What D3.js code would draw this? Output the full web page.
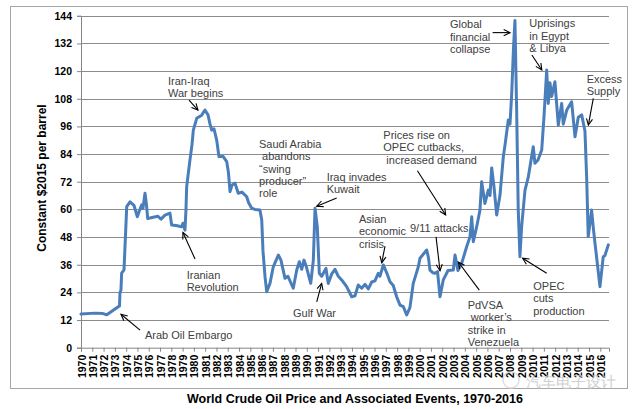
<!DOCTYPE html>
<html><head><meta charset="utf-8">
<script src="https://cdn.jsdelivr.net/npm/d3@7"></script>
<style>
html,body{margin:0;padding:0;background:#fff;}
svg{display:block;}
text{font-family:"Liberation Sans",Arial,sans-serif;}
</style></head>
<body>
<svg id="c" width="640" height="409"></svg>
<script>
// ---- data (decimal year, constant $2015 per barrel) ----
const dates = [1970.0,1971.24,1971.95,1972.28,1972.57,1972.92,1973.30,1973.41,1973.45,1973.54,1973.60,1973.81,
1974.05,1974.34,1974.69,1974.99,1975.14,1975.38,1975.49,1975.67,1975.80,1975.91,1976.29,1976.82,1977.09,1977.44,
1977.88,1978.03,1978.41,1978.92,1979.03,1979.21,1979.30,1979.36,1979.65,1979.83,1979.95,1980.25,1980.69,1980.98,
1981.25,1981.43,1981.58,1981.78,1982.02,1982.22,1982.58,1982.91,1983.06,1983.20,1983.37,1983.64,1983.93,1984.26,
1984.68,1984.84,1985.12,1985.41,1985.85,1986.01,1986.12,1986.30,1986.45,1986.74,1987.03,1987.48,1987.71,1988.07,
1988.33,1988.80,1989.11,1989.34,1989.55,1989.75,1989.97,1990.35,1990.58,1990.73,1990.93,1991.11,1991.32,1991.70,
1991.90,1992.21,1992.50,1992.79,1993.09,1993.53,1993.98,1994.27,1994.56,1994.86,1995.16,1995.45,1995.75,1996.04,
1996.33,1996.48,1996.78,1997.08,1997.37,1997.66,1997.96,1998.26,1998.55,1998.85,1999.14,1999.43,1999.88,2000.03,
2000.62,2000.78,2000.91,2001.18,2001.36,2001.58,2001.80,2002.09,2002.51,2002.98,2003.13,2003.39,2003.72,2004.16,
2004.46,2004.61,2004.75,2005.05,2005.34,2005.49,2005.78,2006.08,2006.23,2006.38,2006.58,2006.82,2007.11,2007.41,
2007.56,2007.85,2008.00,2008.15,2008.31,2008.44,2008.59,2008.73,2008.88,2009.03,2009.33,2009.62,2009.77,2010.06,
2010.21,2010.48,2010.81,2011.01,2011.25,2011.39,2011.54,2011.69,2011.83,2011.98,2012.28,2012.58,2012.72,2013.02,
2013.46,2013.76,2014.05,2014.35,2014.64,2014.79,2014.93,2015.23,2015.38,2015.53,2015.97,2016.26,2016.41,2016.71];
const prices = [14.6,15.0,14.8,14.3,15.3,16.5,17.8,18.0,23.7,25.0,32.4,33.8,
61.2,63.3,61.8,56.8,59.0,62.0,60.5,67.0,62.0,56.0,56.5,57.0,55.8,57.5,
58.4,53.2,53.0,52.5,54.0,51.0,60.0,69.9,81.4,88.0,94.4,99.5,100.9,103.1,
101.0,97.0,94.4,95.0,90.1,82.9,83.0,80.7,76.0,67.7,70.5,71.4,67.0,67.5,
65.5,63.0,60.5,60.0,59.7,55.4,42.0,30.8,24.3,27.9,35.1,40.2,38.0,30.1,
31.0,25.8,33.7,37.3,34.0,38.0,35.0,27.9,38.0,60.5,52.5,32.3,31.0,34.4,
27.9,32.0,34.0,31.0,29.4,26.5,22.1,22.5,27.2,25.8,27.5,25.5,28.5,29.0,
32.3,31.0,35.9,32.5,28.6,27.0,22.1,18.5,17.8,14.2,17.5,27.9,35.1,38.8,
42.4,39.0,33.7,32.5,32.3,33.0,22.1,29.4,33.5,33.7,40.2,33.5,36.6,43.8,
48.2,56.8,46.0,52.5,59.7,72.0,62.6,68.4,66.0,78.0,70.0,57.6,66.0,82.9,
88.0,98.8,97.0,110.0,130.0,142.0,103.0,60.0,39.5,52.5,68.4,74.0,78.5,87.2,
80.0,81.4,85.8,100.0,120.5,106.0,115.0,109.0,112.0,115.4,96.6,106.0,97.0,103.0,
106.7,91.5,100.0,101.0,94.0,74.0,48.2,59.7,52.0,45.3,26.5,39.5,40.0,44.6];
const yearLabels = d3.range(1970, 2017).map(String);
const yTicks = [0,12,24,36,48,60,72,84,96,108,120,132,144];

// annotations: text lines placed in data coordinates, arrow from -> to in data coordinates
const annotations = [
  {lines:["Arab Oil Embargo"], at:[1975.67,5.5], arrow:[[1975.23,7.6],[1973.54,14.5]]},
  {lines:["Iranian","Revolution"], at:[1979.36,31.5], arrow:[[1980.1,38.5],[1979.03,50.0]]},
  {lines:["Iran-Iraq","War begins"], at:[1977.71,115.7], arrow:[[1979.57,107.4],[1980.36,103.1]]},
  {lines:["Saudi Arabia"," abandons","\u201cswing","producer\u201d","role"], at:[1985.77,88.4], arrow:null},
  {lines:["Iraq invades","Kuwait"], at:[1991.76,74.1], arrow:[[1992.65,64.9],[1990.88,61.4]]},
  {lines:["Gulf War"], at:[1988.78,15.05], arrow:[[1990.88,19.9],[1991.32,27.9]]},
  {lines:["Asian","economic","crisis"], at:[1994.62,55.8], arrow:[[1996.93,44.1],[1996.64,36.9]]},
  {lines:["9/11 attacks"], at:[1999.14,51.9], arrow:[[2001.45,48.1],[2001.80,33.4]]},
  {lines:["PdVSA"," worker\u2019s","strike in","Venezuela"], at:[2004.25,18.5], arrow:[[2005.28,25.0],[2003.42,37.2]]},
  {lines:["Prices rise on","OPEC cutbacks,"," increased demand"], at:[1996.78,92.3], arrow:[[1999.8,76.8],[2002.3,57.6]]},
  {lines:["Global","financial","collapse"], at:[2002.68,140.3], arrow:[[2006.46,136.7],[2008.0,136.7]]},
  {lines:["Uprisings","in Egypt","& Libya"], at:[2009.71,140.7], arrow:[[2009.94,127.0],[2010.82,120.5]]},
  {lines:["Excess","Supply"], at:[2014.79,116.6], arrow:[[2015.38,108.2],[2014.94,96.6]]},
  {lines:["OPEC","cuts","production"], at:[2010.06,26.8], arrow:[[2011.25,32.3],[2009.12,38.8]]}
];

// ---- layout ----
const svg = d3.select("#c");
const x = d3.scaleLinear().domain([1970, 2016.77]).range([81, 609]);
const y = d3.scaleLinear().domain([0, 144]).range([347.7, 15.8]);

// outer frame
svg.append("rect").attr("x",10.5).attr("y",6.5).attr("width",617).attr("height",382)
  .attr("fill","none").attr("stroke","#a6a6a6").attr("stroke-width",1);

// gridlines
svg.append("g").selectAll("line").data(yTicks.filter(d=>d>0)).join("line")
  .attr("x1",81).attr("x2",609)
  .attr("y1",d=>Math.round(y(d))+0.5).attr("y2",d=>Math.round(y(d))+0.5)
  .attr("stroke","#8c8c8c").attr("stroke-width",1);

// y axis
const yAxis = d3.axisLeft(y).tickValues(yTicks).tickSize(4).tickPadding(5);
const gy = svg.append("g").attr("transform","translate(81,0)").call(yAxis);
gy.select(".domain").attr("stroke","#868686");
gy.selectAll(".tick line").attr("stroke","#868686");
gy.selectAll(".tick text").attr("font-family","Liberation Sans, Arial, sans-serif")
  .attr("font-size",10.5).attr("font-weight","bold").attr("fill","#000");

// x axis (year ticks)
const xAxis = d3.axisBottom(x).tickValues(yearLabels.map(Number)).tickFormat(d=>String(d)).tickSize(4).tickPadding(3);
const gx = svg.append("g").attr("transform","translate(0,347.7)").call(xAxis);
gx.select(".domain").attr("stroke","#868686");
gx.selectAll(".tick line").attr("stroke","#868686");
gx.selectAll(".tick text")
  .attr("font-family","Liberation Sans, Arial, sans-serif")
  .attr("font-size",10.5).attr("font-weight","bold").attr("fill","#000")
  .attr("text-anchor","end").attr("dy",null).attr("y",0).attr("x",0)
  .attr("transform","translate(4,7) rotate(-90)");

// y axis title
svg.append("text").attr("transform","translate(46,178) rotate(-90)")
  .attr("text-anchor","middle").attr("font-size",12).attr("font-weight","bold")
  .attr("fill","#000").text("Constant $2015 per barrel");

// price line
const line = d3.line().x((d,i)=>x(dates[i])).y((d,i)=>y(prices[i])).curve(d3.curveLinear);
svg.append("path").datum(prices).attr("d",line)
  .attr("fill","none").attr("stroke","#4a7ebb").attr("stroke-width",3)
  .attr("stroke-linejoin","round").attr("stroke-linecap","round");

// annotations
const ag = svg.append("g");
annotations.forEach(a=>{
  const t = ag.append("text").attr("font-size",11).attr("fill","#404040")
    .attr("text-anchor","start").attr("xml:space","preserve");
  a.lines.forEach((ln,i)=>{
    t.append("tspan").attr("x",x(a.at[0])).attr("y",y(a.at[1])+4+i*12.3).text(ln);
  });
  if(a.arrow){
    const x1=x(a.arrow[0][0]), y1=y(a.arrow[0][1]), x2=x(a.arrow[1][0]), y2=y(a.arrow[1][1]);
    ag.append("line").attr("x1",x1).attr("y1",y1).attr("x2",x2).attr("y2",y2)
      .attr("stroke","#000").attr("stroke-width",1.1);
    const ang=Math.atan2(y2-y1,x2-x1), L=7, w=0.45;
    const p1=[x2-L*Math.cos(ang-w), y2-L*Math.sin(ang-w)];
    const p2=[x2-L*Math.cos(ang+w), y2-L*Math.sin(ang+w)];
    ag.append("path").attr("d",`M${p1[0]},${p1[1]}L${x2},${y2}L${p2[0]},${p2[1]}`)
      .attr("fill","none").attr("stroke","#000").attr("stroke-width",1.1);
  }
});

// title
svg.append("text").attr("x",355).attr("y",403).attr("text-anchor","middle")
  .attr("font-size",13.5).attr("font-weight","bold").attr("fill","#000")
  .attr("textLength",336).attr("lengthAdjust","spacingAndGlyphs")
  .text("World Crude Oil Price and Associated Events, 1970-2016");

// watermark
svg.append("circle").attr("cx",511).attr("cy",380).attr("r",8).attr("fill","none")
  .attr("stroke","#d6d6d6").attr("stroke-width",1.5).attr("opacity",0.8);
svg.append("text").attr("x",526).attr("y",387).attr("font-family","Noto Sans CJK SC")
  .attr("font-size",15).attr("fill","#c8c8c8").attr("opacity",0.85).text("汽车电子设计");
</script>
</body></html>
